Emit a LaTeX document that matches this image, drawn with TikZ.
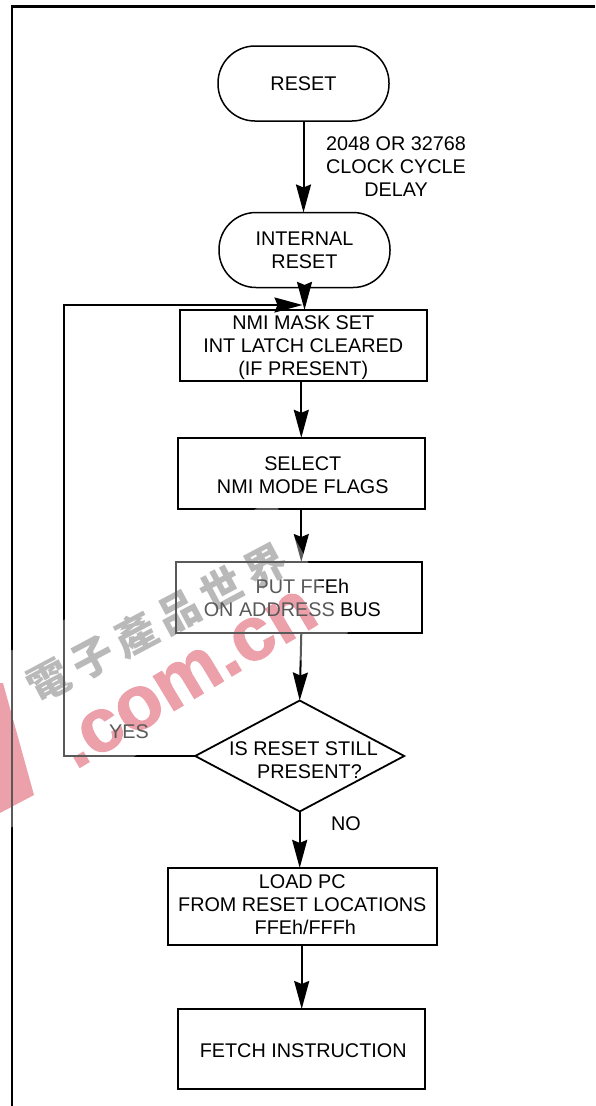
\documentclass[tikz,border=0pt]{standalone}
\usepackage{fontspec}
\usepackage{color}
\usetikzlibrary{arrows.meta,shapes.geometric}
\setmainfont{Liberation Sans}
\newfontfamily\cjkmark{Noto Sans CJK TC}
\begin{document}
\begin{tikzpicture}[x=1pt,y=-1pt,
  every node/.style={inner sep=0pt,outer sep=0pt,align=center,font=\fontsize{19.8}{23}\selectfont},
  pill/.style={draw,line width=1.5pt,rounded corners=37pt,minimum width=171pt,minimum height=75pt},
  stepbox/.style={draw,line width=2.2pt,minimum height=71pt},
  decision/.style={draw,line width=1.8pt,shape=diamond,minimum width=209pt,minimum height=111pt},
  flow/.style={line width=2pt,-{Stealth[length=28pt,width=15pt,inset=3pt]}}]
\definecolor[named]{markRed}{rgb}{0.89,0.43,0.49}
\definecolor[named]{markGrey}{rgb}{0.58,0.58,0.58}
\path[use as bounding box] (0,0) rectangle (595,1106);

\path[fill=markRed] (0,683) -- (3,683) -- (34,795) -- (0,813) -- cycle;
\node[text=markRed,rotate=31,anchor=base west,font=\fontsize{76}{76}\selectfont\bfseries\addfontfeature{FakeBold=1.5}] (markdomain) at ( 75.50,770.00) {.com.cn};
\node[text=markGrey,rotate=28,font=\fontsize{42}{42}\selectfont\cjkmark\bfseries] (markname) at (157.00,623.00)
  {電\hspace{7pt}子\hspace{7pt}產\hspace{7pt}品\hspace{7pt}世\hspace{7pt}界};

\path[draw,line width=2.2pt] (595.00,  6.50) -- ( 12.00,  6.50) -- ( 12.00,1106.00);

\node[pill] (reset) at (303.50, 83.50) {RESET};
\node[pill] (intreset) at (304.50,250.00) {INTERNAL\\RESET};
\node[stepbox,minimum width=247pt] (nmi) at (303.30,345.40) {\rule{0pt}{19pt}NMI MASK SET\\INT LATCH CLEARED\\(IF PRESENT)};
\node[stepbox,minimum width=247pt] (select) at (301.30,473.30) {\rule{0pt}{17pt}\hspace*{3pt}SELECT\\\hspace*{3pt}NMI MODE FLAGS};
\node[stepbox,minimum width=246pt] (put) at (298.90,597.50) {\hspace*{7pt}PUT FFEh\\ON ADDRESS BUS\hspace*{13pt}};
\node[decision] (dia) at (299.70,756.00) {};
\node (dialabel) at (303.50,760.50) {IS RESET STILL\\\hspace*{12pt}PRESENT?};
\node[stepbox,minimum width=269pt,minimum height=77pt] (load) at (302.30,906.40) {LOAD PC\\FROM RESET LOCATIONS\\\rule[-4pt]{0pt}{4pt}\hspace*{6pt}FFEh/FFFh};
\node[stepbox,minimum width=247pt,minimum height=80pt] (fetch) at (301.70,1049.00) {\rule{0pt}{18pt}\hspace*{3pt}FETCH INSTRUCTION};

\node (delay) at (396.00,167.00) {2048 OR 32768\\CLOCK CYCLE\\DELAY};
\node (yes) at (129.00,732.00) {YES};
\node (no) at (346.00,824.00) {NO};

\coordinate (loopcorner) at ( 64.00,305.00);
\coordinate (loopjoin) at (intreset.south |- loopcorner);

\draw[flow] (reset.south) -- (reset.south |- intreset.north);
\draw[flow] (intreset.south) -- (intreset.south |- nmi.north);
\draw[flow] (nmi.south -| select.north) -- (select.north);
\draw[flow] (select.south) -- (select.south |- put.north);
\draw[flow] (put.south -| select.south) -- (dia.north);
\draw[flow] (dia.south) -- (dia.south |- load.north);
\draw[flow] (load.south -| fetch.north) -- (fetch.north);
\draw[flow,shorten >=2pt] (dia.west) -| (loopcorner) -- (loopjoin);

\path[fill=white,fill opacity=0.35] (0,657) -- (272.7,499) -- (348,633) -- (0,834) -- cycle;
\end{tikzpicture}
\end{document}
